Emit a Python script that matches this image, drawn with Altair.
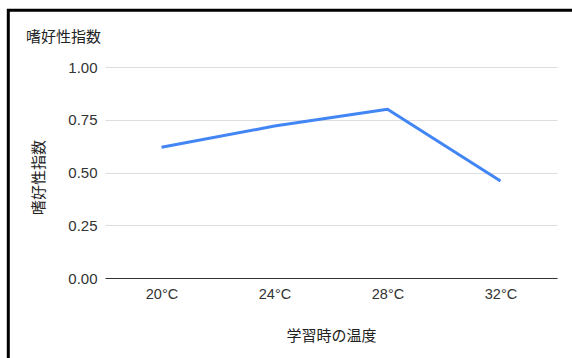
import altair as alt
import pandas as pd

# Learning temperature vs. preference index
temperatures = ["20°C", "24°C", "28°C", "32°C"]
preference_index = [0.62, 0.72, 0.80, 0.46]
chart_title = "嗜好性指数"

df = pd.DataFrame({"temp": temperatures, "index": preference_index})
title_df = pd.DataFrame({"label": [chart_title]})

CJK = "Liberation Sans, Noto Sans CJK JP, sans-serif"

line = (
    alt.Chart(df)
    .mark_line(color="#4285F4", strokeWidth=3, strokeJoin="round")
    .encode(
        x=alt.X(
            "temp:N",
            sort=temperatures,
            scale=alt.Scale(paddingInner=0, paddingOuter=0),
            axis=alt.Axis(
                title="学習時の温度",
                titleFont=CJK,
                titleFontSize=15,
                titleFontWeight="normal",
                titleColor="#222222",
                titleBaseline="middle",
                titleY=57,
                labelAngle=0,
                labelFont=CJK,
                labelFontSize=14.5,
                labelColor="#333333",
                labelPadding=9,
                ticks=False,
                tickSize=0,
                domainColor="#333333",
                domainWidth=1,
                grid=False,
            ),
        ),
        y=alt.Y(
            "index:Q",
            scale=alt.Scale(domain=[0, 1]),
            axis=alt.Axis(
                title="嗜好性指数",
                titleFont=CJK,
                titleFontSize=15,
                titleFontWeight="normal",
                titleColor="#222222",
                titleBaseline="middle",
                titleX=-67,
                titleY=110,
                values=[0, 0.25, 0.5, 0.75, 1.0],
                format=".2f",
                labelFont=CJK,
                labelFontSize=15,
                labelColor="#333333",
                labelPadding=8,
                ticks=False,
                tickSize=0,
                domain=False,
                gridColor="#dddddd",
                gridWidth=1,
            ),
        ),
    )
)

# Chart heading in the top-left corner
heading = (
    alt.Chart(title_df)
    .mark_text(
        align="left",
        baseline="middle",
        font=CJK,
        fontSize=15,
        color="#222222",
    )
    .encode(text="label:N", x=alt.value(-79), y=alt.value(-30))
)

# Black frame around the whole figure
frame = (
    alt.Chart(title_df)
    .mark_rect(fill="transparent", stroke="black", strokeWidth=3, clip=False)
    .encode(
        x=alt.value(-96.7),
        x2=alt.value(600),
        y=alt.value(-56.7),
        y2=alt.value(400),
    )
)

chart = (
    alt.layer(line, heading, frame)
    .properties(
        width=452,
        height=211,
        background="white",
        padding={"left": 105, "top": 67, "right": 15, "bottom": 80},
        autosize=alt.AutoSizeParams(type="none"),
    )
    .configure_view(strokeWidth=0, stroke="transparent")
)

chart.save("out.html", embed_options={"renderer": "svg", "actions": False})
